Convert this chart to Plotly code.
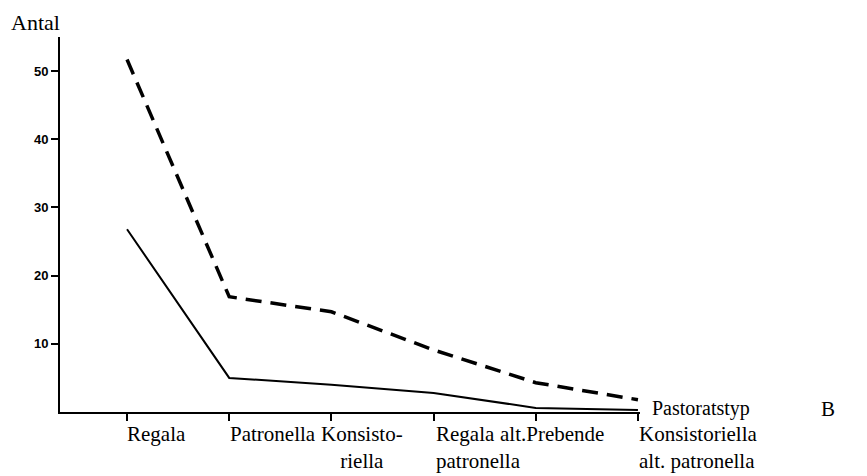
import plotly.graph_objects as go

# Data
categories = ["Regala", "Patronella", "Konsisto-<br>riella", "Regala<br>patronella",
              "alt.Prebende", "Konsistoriella<br>alt. patronella"]
dashed_values = [51.7, 16.9, 14.7, 9.1, 4.3, 1.8]
solid_values = [26.8, 5.0, 4.0, 2.8, 0.6, 0.3]
y_ticks = [10, 20, 30, 40, 50]

# label placement styles (pixel shifts relative to tick)
label_shift = [-2, -1, -12, 0, -38, -1]
label_align = ["left", "left", "center", "left", "left", "left"]

xs = list(range(len(categories)))

fig = go.Figure()
fig.add_trace(go.Scatter(x=xs, y=dashed_values, mode="lines",
                         line=dict(color="black", width=3.5, dash="16px,9px"),
                         showlegend=False, hoverinfo="skip"))
fig.add_trace(go.Scatter(x=xs, y=solid_values, mode="lines",
                         line=dict(color="black", width=2),
                         showlegend=False, hoverinfo="skip"))

serif = "Liberation Serif, DejaVu Serif, serif"
annotations = []
for i, (lab, sh, al) in enumerate(zip(categories, label_shift, label_align)):
    annotations.append(dict(x=i, xref="x", y=0, yref="paper", yanchor="top",
                            xanchor="left", xshift=sh, yshift=-8, text=lab,
                            align=al, showarrow=False,
                            font=dict(family=serif, size=21, color="black")))
annotations.append(dict(x=1, xref="paper", y=0, yref="paper", xanchor="left",
                        yanchor="middle", xshift=10, yshift=4, text="Pastoratstyp",
                        showarrow=False, font=dict(family=serif, size=20, color="black")))
annotations.append(dict(x=1.324, xref="paper", y=0, yref="paper", xanchor="center",
                        yanchor="middle", yshift=3, text="B",
                        showarrow=False, font=dict(family=serif, size=21, color="black")))
annotations.append(dict(x=-0.088, xref="paper", y=1, yref="paper", xanchor="left",
                        yanchor="middle", yshift=15, text="Antal",
                        showarrow=False, font=dict(family=serif, size=22, color="black")))

fig.update_layout(
    width=867, height=476,
    margin=dict(l=52, r=235, t=29, b=72),
    paper_bgcolor="white", plot_bgcolor="white",
    annotations=annotations,
    xaxis=dict(range=[-0.656, 5.02], tickmode="array", tickvals=xs,
               ticktext=[""] * len(xs), showgrid=False, zeroline=False,
               showline=True, linecolor="black", linewidth=2,
               ticks="outside", ticklen=7, tickwidth=2, tickcolor="black"),
    yaxis=dict(range=[0, 55], tickmode="array", tickvals=y_ticks,
               ticktext=[str(v) for v in y_ticks], showgrid=False, zeroline=False,
               showline=True, linecolor="black", linewidth=2,
               ticks="outside", ticklen=7, tickwidth=2, tickcolor="black",
               tickfont=dict(family="Liberation Sans", size=13, color="black", weight="bold")),
)

fig.write_html("out.html")
